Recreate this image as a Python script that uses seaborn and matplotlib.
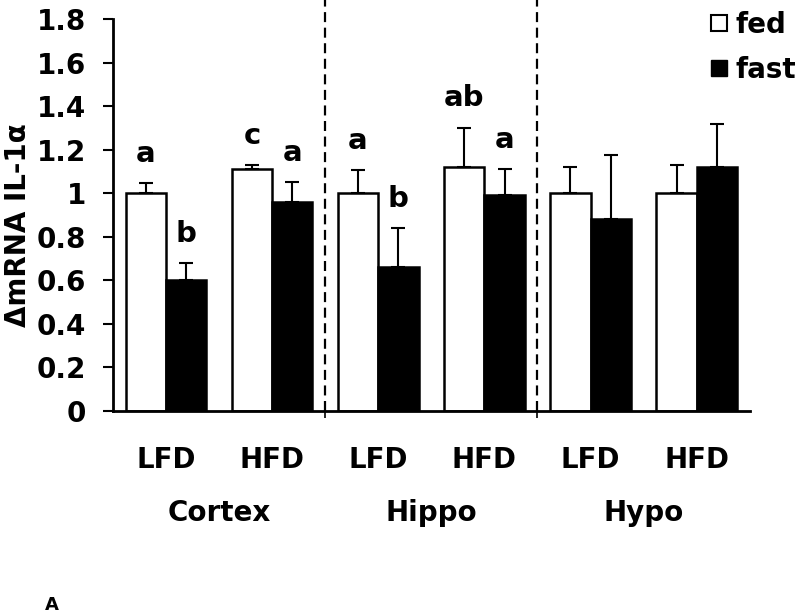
# IL-1a mRNA bar chart, fed vs fast, by region and diet
import numpy as np
import pandas as pd
import matplotlib
matplotlib.use("Agg")
import matplotlib.pyplot as plt
from matplotlib.lines import Line2D
import seaborn as sns

# data
regions = ['Cortex', 'Hippo', 'Hypo']
diets = ['LFD', 'HFD']
fed_mean = [1.00, 1.11, 1.00, 1.12, 1.00, 1.00]
fed_err = [0.045, 0.02, 0.107, 0.18, 0.12, 0.128]
fast_mean = [0.60, 0.96, 0.66, 0.99, 0.88, 1.12]
fast_err = [0.08, 0.09, 0.18, 0.12, 0.295, 0.20]
fed_letters = ['a', 'c', 'a', 'ab', '', '']
fast_letters = ['b', 'a', 'b', 'a', '', '']
y_ticks = [0, 0.2, 0.4, 0.6, 0.8, 1.0, 1.2, 1.4, 1.6, 1.8]

cats = [r + ' ' + d for r in regions for d in diets]
df = pd.DataFrame({
    'cat': cats * 2,
    'cond': ['fed'] * 6 + ['fast'] * 6,
    'val': fed_mean + fast_mean,
})

sns.set_style("ticks")
plt.rcParams['font.family'] = ['DejaVu Sans']
plt.rcParams['font.weight'] = 'bold'
for k in ['text.color', 'axes.labelcolor', 'xtick.color', 'ytick.color', 'axes.edgecolor']:
    plt.rcParams[k] = 'black'

fig = plt.figure(figsize=(8, 6.15), dpi=100)
ax = fig.add_axes([0.141, 0.3317, 0.7963, 0.6374])

sns.barplot(data=df, x='cat', y='val', hue='cond', order=cats,
            hue_order=['fed', 'fast'], palette=['white', 'black'],
            edgecolor='black', linewidth=1.8, width=0.76,
            errorbar=None, legend=False, ax=ax)

# error bars (upper only) and letters
x = np.arange(len(cats))
off = 0.76 / 4
for means, errs, letters, dx in [(fed_mean, fed_err, fed_letters, -off),
                                 (fast_mean, fast_err, fast_letters, off)]:
    ax.errorbar(x + dx, means, yerr=[np.zeros(len(errs)), errs], fmt='none',
                ecolor='black', elinewidth=1.5, capsize=5, capthick=1.5)
    for xi, m, e, t in zip(x + dx, means, errs, letters):
        if t:
            ax.text(xi, m + e + 0.135, t, ha='center', va='center',
                    fontsize=21, fontweight='bold')

# dashed separators between regions
for b in [1.5, 3.5]:
    ax.axvline(b, ymin=0, ymax=1.05, color='black', ls=(0, (4.5, 2.5)),
               lw=1.6, clip_on=False)

ax.set_xlim(-0.5, 5.5)
ax.set_ylim(0, 1.8)
ax.set_yticks(y_ticks)
ax.set_yticklabels([f"{v:g}" for v in y_ticks], fontsize=20, fontweight='bold')
ax.tick_params(axis='y', length=7, width=1.5, pad=12)
ax.set_xticks(x)
ax.set_xticklabels(diets * 3, fontsize=20, fontweight='bold')
ax.tick_params(axis='x', length=0, pad=25)
ax.set_xticks([1.5, 3.5], minor=True)
ax.tick_params(axis='x', which='minor', length=5, width=1.2)
ax.set_xlabel('')
ax.set_ylabel('ΔmRNA IL-1α', fontsize=20, fontweight='bold')
ax.yaxis.set_label_coords(-0.127, 0.475)

for i, r in enumerate(regions):
    ax.text(2 * i + 0.5, -0.26, r, transform=ax.get_xaxis_transform(),
            ha='center', va='center', fontsize=20, fontweight='bold')

sns.despine(ax=ax)
for s in ['left', 'bottom']:
    ax.spines[s].set_linewidth(2)

handles = [Line2D([], [], ls='none', marker='s', markersize=11,
                  markerfacecolor='white', markeredgecolor='black', markeredgewidth=1.5),
           Line2D([], [], ls='none', marker='s', markersize=11,
                  markerfacecolor='black', markeredgecolor='black')]
fig.legend(handles, ['fed', 'fast'], loc='upper left',
           bbox_to_anchor=(0.885, 0.982), frameon=False,
           prop={'size': 20, 'weight': 'bold'}, handlelength=0.8,
           handletextpad=0.2, labelspacing=0.6, borderpad=0, borderaxespad=0)

fig.text(0.056, 0.008, 'A', fontsize=13, fontweight='bold', ha='left', va='baseline')

fig.savefig('out.png', dpi=100)
